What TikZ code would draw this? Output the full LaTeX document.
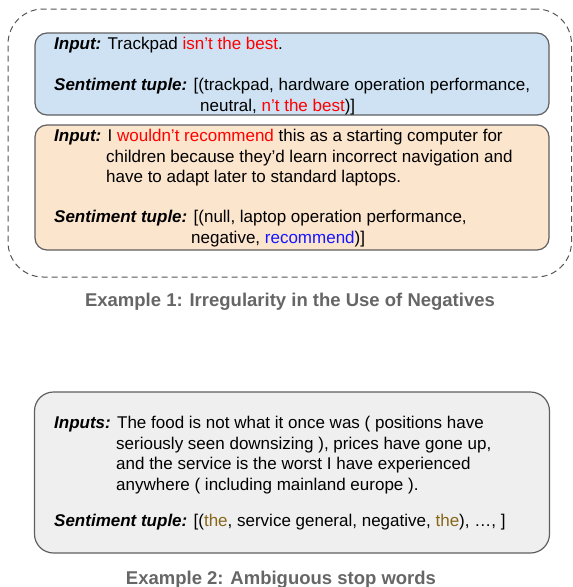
\documentclass[tikz,border=0pt]{standalone}
\usepackage{fontspec}
\setmainfont{Liberation Sans}
\definecolor{boxline}{HTML}{5F5F5F}
\definecolor{dashline}{HTML}{555555}
\definecolor{bluefill}{HTML}{CFE2F3}
\definecolor{orangefill}{HTML}{FCE5CD}
\definecolor{greyfill}{HTML}{EFEFEF}
\definecolor{negred}{HTML}{FF0000}
\definecolor{aspblue}{HTML}{1515FF}
\definecolor{stopgold}{HTML}{86661A}
\definecolor{capgrey}{HTML}{666666}
\newcommand{\lab}[1]{\textbf{\textit{#1}}}
\begin{document}
\begin{tikzpicture}[x=1pt,y=-1pt,
  txt/.style={anchor=base west, inner sep=0pt, font=\fontsize{17}{20.5}\selectfont},
  captext/.style={anchor=base, inner sep=0pt, text=capgrey,
              font=\fontsize{18.5}{22}\selectfont\bfseries},
  card/.style={draw=boxline, line width=1.2pt, rounded corners=12pt,
               inner sep=0pt, shape=rectangle},
  group/.style={draw=dashline, line width=1pt, dash pattern=on 6pt off 4pt,
                rounded corners=35pt, inner sep=0pt, shape=rectangle}]
\useasboundingbox (0,0) rectangle (573,587);

% dashed frame around the first example
\node[group, minimum width=563.5pt, minimum height=268pt] (frame1) at (289.75,143) {};

% first example: two cards
\node[card, fill=bluefill, minimum width=514pt, minimum height=82pt] (cardA) at (292,74) {};
\node[card, fill=orangefill, minimum width=514pt, minimum height=125pt] (cardB) at (292,187.5) {};

% second example card
\node[card, fill=greyfill, rounded corners=19pt, minimum width=515pt, minimum height=161pt] (cardC) at (292,472.5) {};

% card A text
\node[txt] (a1) at (54,49.5) {\lab{Input:} Trackpad \textcolor{negred}{isn’t the best}.};
\node[txt] (a2) at (54,90.5) {\lab{Sentiment tuple:} [(trackpad, hardware operation performance,};
\node[txt] (a3) at (200,111) {neutral, \textcolor{negred}{n’t the best})]};

% card B text
\node[txt] (b1) at (54,141.5) {\lab{Input:} I \textcolor{negred}{wouldn’t recommend} this as a starting computer for};
\node[txt] (b2) at (106,162) {children because they’d learn incorrect navigation and};
\node[txt] (b3) at (106,182.5) {have to adapt later to standard laptops.};
\node[txt] (b4) at (54,222.5) {\lab{Sentiment tuple:} [(null, laptop operation performance,};
\node[txt] (b5) at (191,243) {negative, \textcolor{aspblue}{recommend})]};

% card C text
\node[txt] (c1) at (54,428.5) {\lab{Inputs:} The food is not what it once was ( positions have};
\node[txt] (c2) at (116,449) {seriously seen downsizing ), prices have gone up,};
\node[txt] (c3) at (116,469.5) {and the service is the worst I have experienced};
\node[txt] (c4) at (116,490) {anywhere ( including mainland europe ).};
\node[txt] (c5) at (54,526) {\lab{Sentiment tuple:} [(\textcolor{stopgold}{the}, service general, negative, \textcolor{stopgold}{the}), …, ]};

% captions
\node[captext] (cap1) at (290,306) {Example 1: Irregularity in the Use of Negatives};
\node[captext] (cap2) at (281,584) {Example 2: Ambiguous stop words};
\end{tikzpicture}
\end{document}
